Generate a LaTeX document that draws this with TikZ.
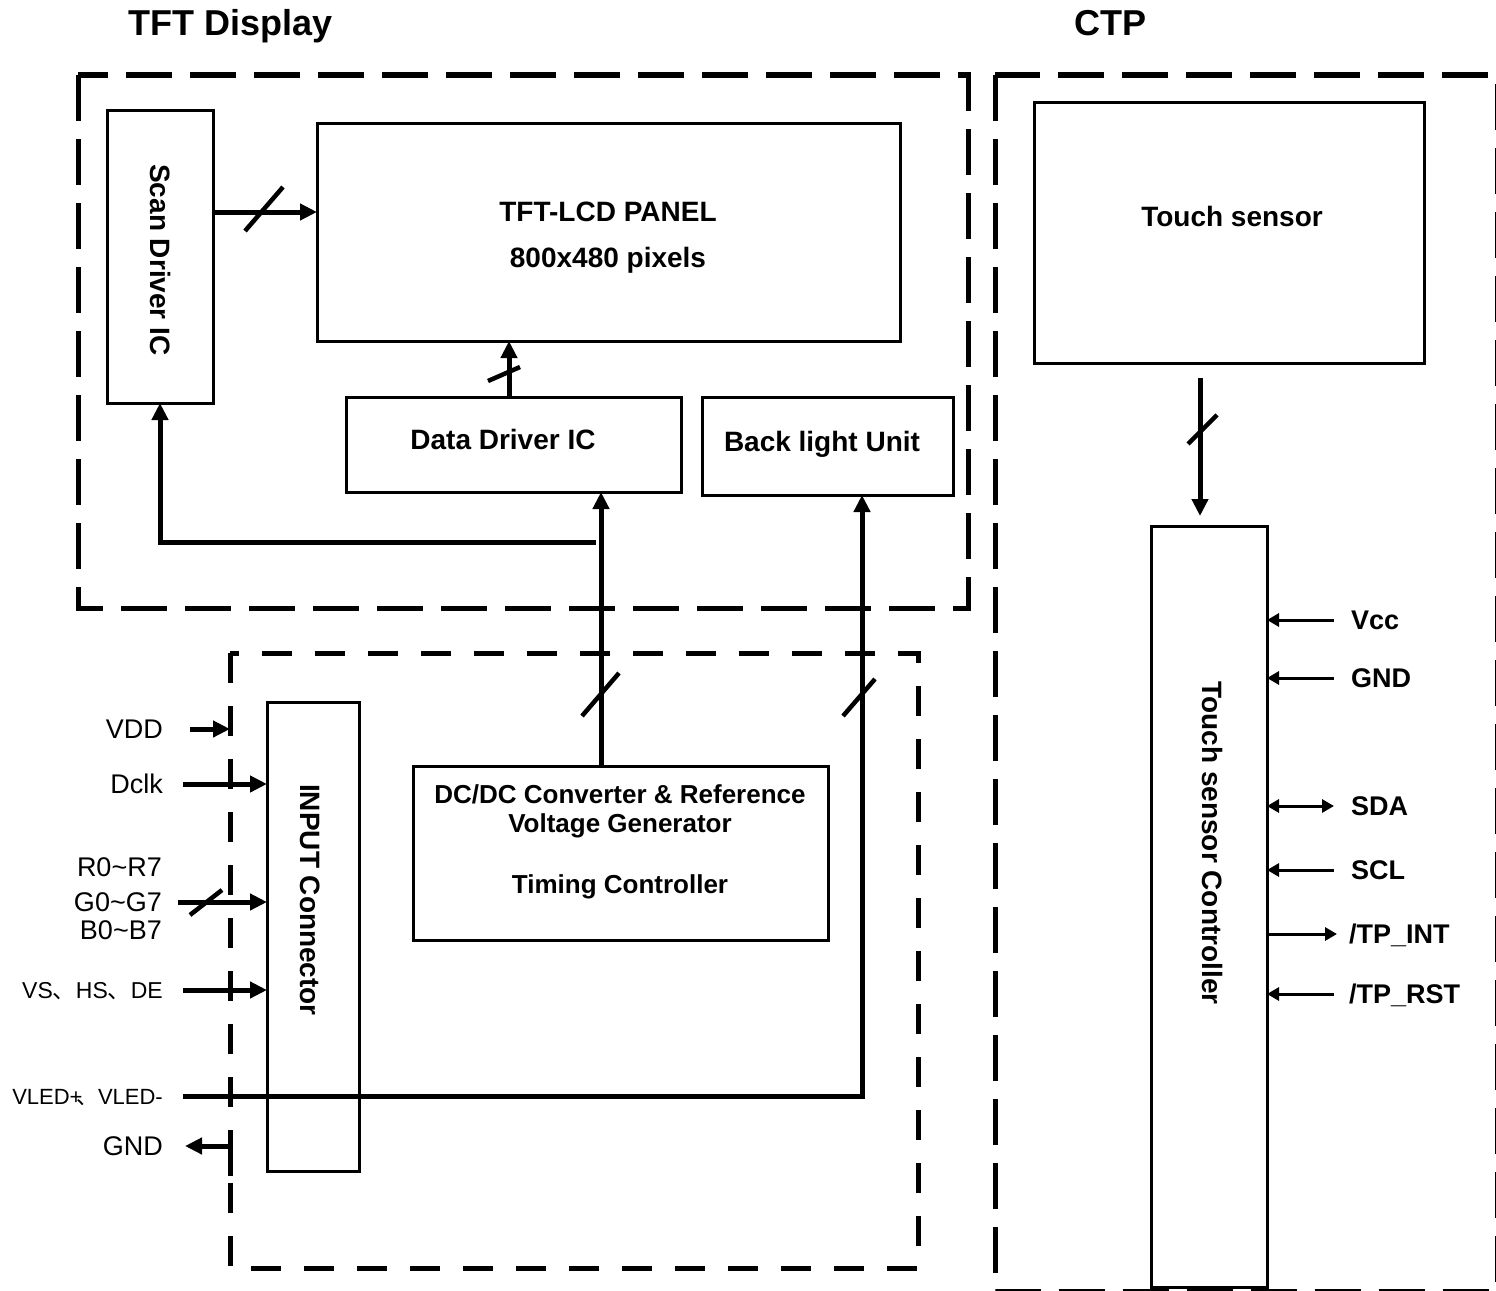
\documentclass[tikz,border=0pt]{standalone}
\usepackage{fontspec}
\setmainfont{Liberation Sans}
\newfontfamily\cjk{Noto Sans CJK SC}
\usetikzlibrary{arrows.meta,fit,calc}
\begin{document}
\begin{tikzpicture}[x=1pt,y=-1pt,
  box/.style={draw,line width=3pt,inner sep=0pt,outer sep=0pt},
  bigdash/.style={line width=5pt,dash pattern=on 46pt off 18pt},
  smalldash/.style={line width=5pt,dash pattern=on 30pt off 23pt},
  arr/.style={line width=5pt,arrows={-Triangle[length=17pt,width=16pt]}},
  slash/.style={line width=4.5pt},
  pin in/.style={line width=3pt,arrows={Triangle[length=12pt,width=13pt]-}},
  pin out/.style={line width=3pt,arrows={-Triangle[length=12pt,width=13pt]}},
  pin both/.style={line width=3pt,arrows={Triangle[length=12pt,width=13pt]-Triangle[length=12pt,width=13pt]}},
  ttl/.style={font=\bfseries\fontsize{36}{40}\selectfont,inner sep=0pt,text height=25.8pt,text depth=0pt},
  lbl/.style={font=\bfseries\fontsize{28}{32}\selectfont,inner sep=0pt,text height=20pt,text depth=0pt},
  lbls/.style={font=\bfseries\fontsize{26}{30}\selectfont,inner sep=0pt,text height=18.6pt,text depth=0pt},
  sig/.style={font=\fontsize{27}{30}\selectfont,inner sep=0pt,text height=19.3pt,text depth=0pt,anchor=east},
  sigs/.style={font=\fontsize{23}{26}\selectfont,inner sep=0pt,text height=16.5pt,text depth=0pt,anchor=east},
  pinl/.style={font=\bfseries\fontsize{27}{30}\selectfont,inner sep=0pt,text height=19.3pt,text depth=0pt,anchor=west},
]
\useasboundingbox (0,0) rectangle (1496,1290);
\clip (0,0) rectangle (1496,1290);

% dashed group frames
\draw[bigdash] (78,75) rectangle (968,608);
\draw[bigdash] (995,75) rectangle (1497,1291.5);
\draw[smalldash] (230,653) rectangle (918,1268);

% titles
\node[ttl] (t1) at (231,23) {TFT Display};
\node[ttl] (t2) at (1110,23) {CTP};

% blocks
\node[box,fit={(107,110)(213,403)}] (scan) {};
\node[box,fit={(317,123)(900,341)}] (panel) {};
\node[box,fit={(346,397)(681,492)}] (ddrv) {};
\node[box,fit={(702,397)(953,495)}] (bl) {};
\node[box,fit={(1034,102)(1424,363)}] (ts) {};
\node[box,fit={(1151,526)(1267,1287)}] (tsc) {};
\node[box,fit={(267,702)(359,1171)}] (inc) {};
\node[box,fit={(413,766)(828,940)}] (dcdc) {};

% block texts
\node[lbl,rotate=-90] (scant) at (160,260) {Scan Driver IC};
\node[lbl] (pt1) at (608,211) {TFT-LCD PANEL};
\node[lbl] (pt2) at (608,257) {800x480 pixels};
\node[lbl] (ddt) at (503,439) {Data Driver IC};
\node[lbl] (blt) at (822,441) {Back light Unit};
\node[lbl] (tst) at (1232,216) {Touch sensor};
\node[lbls] (dc1) at (620,794) {DC/DC Converter \& Reference};
\node[lbls] (dc2) at (620,823) {Voltage Generator};
\node[lbls] (dc3) at (620,884) {Timing Controller};
\node[lbl,rotate=-90] (inct) at (310,900) {INPUT Connector};
\node[lbl,rotate=-90] (tsct) at (1212,843) {Touch sensor Controller};

% helper coordinates
\coordinate (r1) at (0,212);
\coordinate (c2) at (509,0);
\coordinate (c3) at (601,0);
\coordinate (c4) at (596,542);
\coordinate (c5) at (160,0);
\coordinate (blx) at (862,0);
\coordinate (tsout) at (1200,378);
\coordinate (tscin) at (1200,516);
\coordinate (vddend) at (230,729);
\coordinate (gndin) at (230,1176);

% internal connections
\draw[arr] (scan.east |- r1) -- (panel.west |- r1);
\draw[slash] (245,231) -- (283,187);
\draw[arr] (ddrv.north -| c2) -- (panel.south -| c2);
\draw[slash] (488,381) -- (520,367);
\draw[arr] (dcdc.north -| c3) -- (ddrv.south -| c3);
\draw[slash] (582,716) -- (619,673);
\draw[arr] (c4) -- (c4 -| c5) -- (scan.south -| c5);
\draw[slash] (843,716) -- (875,679);
\draw[arr] (tsout) -- (tscin);
\draw[slash] (1188,444) -- (1217,415);

% left signals
\node[sig] (vdd) at (163,729) {VDD};
\node[sig] (dclk) at (163,784) {Dclk};
\node[sig] (r07) at (162,867) {R0\textasciitilde R7};
\node[sig] (g07) at (162,902) {G0\textasciitilde G7};
\node[sig] (b07) at (162,930) {B0\textasciitilde B7};
\node[sigs] (vs) at (163,990) {VS{\cjk 、}HS{\cjk 、}DE};
\node[sigs,font=\fontsize{22}{26}\selectfont] (vled) at (163,1096) {VLED+\kern-0.3em{\cjk 、}VLED-};
\node[sig] (gndl) at (163,1146) {GND};

\draw[arr] ([xshift=27pt]vdd.east) -- (vddend);
\draw[arr] ([xshift=20pt]dclk.east) -- (dclk.east -| inc.west);
\draw[arr] ([xshift=16pt]g07.east) -- (g07.east -| inc.west);
\draw[slash] (190,915) -- (222,890);
\draw[arr] ([xshift=20pt]vs.east) -- (vs.east -| inc.west);
\draw[arr] ([xshift=20pt]vled.east) -- (vled.east -| blx) -- (bl.south -| blx);
\draw[arr] (gndin) |- ([xshift=22pt]gndl.east);

% touch controller pins
\node[pinl] (vcc) at (1351,620) {Vcc};
\node[pinl] (gndr) at (1351,678) {GND};
\node[pinl] (sda) at (1351,806) {SDA};
\node[pinl] (scl) at (1351,870) {SCL};
\node[pinl] (tpint) at (1349,934) {/TP\_INT};
\node[pinl] (tprst) at (1349,994) {/TP\_RST};

\draw[pin in] (tsc.east |- vcc) -- ([xshift=-17pt]vcc.west);
\draw[pin in] (tsc.east |- gndr) -- ([xshift=-17pt]gndr.west);
\draw[pin both] (tsc.east |- sda) -- ([xshift=-17pt]sda.west);
\draw[pin in] (tsc.east |- scl) -- ([xshift=-17pt]scl.west);
\draw[pin out] (tsc.east |- tpint) -- ([xshift=-12pt]tpint.west);
\draw[pin in] (tsc.east |- tprst) -- ([xshift=-15pt]tprst.west);
\end{tikzpicture}
\end{document}
